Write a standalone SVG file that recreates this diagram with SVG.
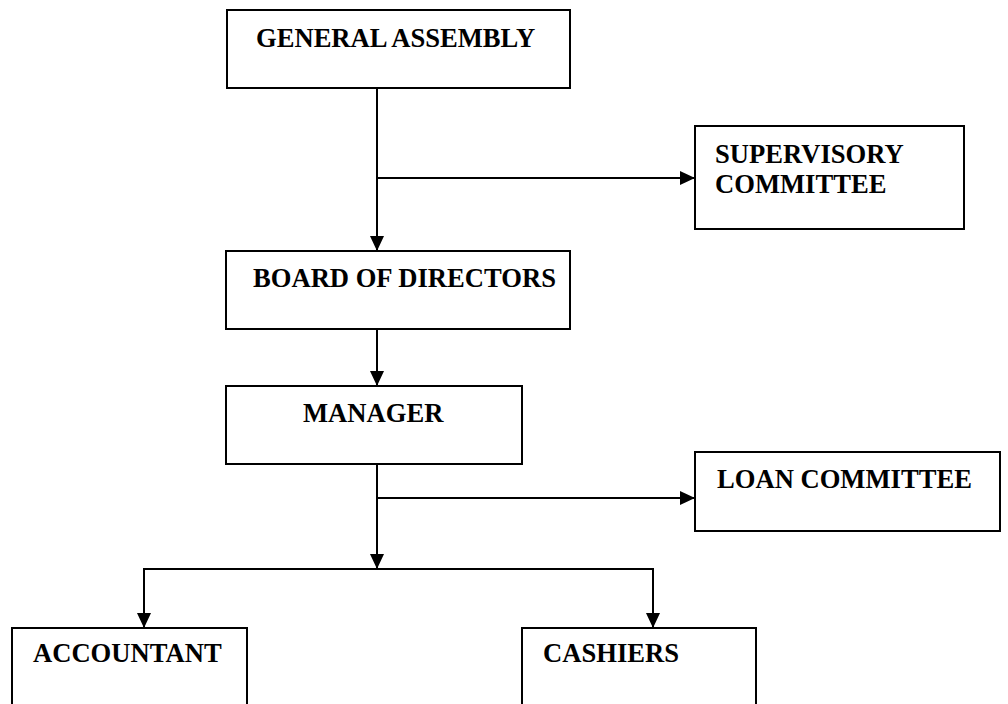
<svg xmlns="http://www.w3.org/2000/svg" width="1008" height="704" viewBox="0 0 1008 704">
<style>
.box{fill:#fff;stroke:#000;stroke-width:2}
.lbl{font-family:"Liberation Serif","Times New Roman",serif;font-weight:bold;font-size:26.6px;fill:#000}
.c{fill:none;stroke:#000;stroke-width:2}
</style>
<defs>
<marker id="ah" viewBox="0 0 15 14" refX="15" refY="7" markerWidth="15" markerHeight="14" markerUnits="userSpaceOnUse" orient="auto">
<path d="M0,0 L15,7 L0,14 z" fill="#000"/>
</marker>
</defs>
<rect width="1008" height="704" fill="#fff"/>
<g id="connectors">
<path class="c" d="M377,88 V251" marker-end="url(#ah)"/>
<path class="c" d="M377,178 H695" marker-end="url(#ah)"/>
<path class="c" d="M377,329 V386" marker-end="url(#ah)"/>
<path class="c" d="M377,464 V569" marker-end="url(#ah)"/>
<path class="c" d="M377,498 H695" marker-end="url(#ah)"/>
<path class="c" d="M144,628 V569 H653 V628"/>
<path class="c" d="M144,569 V628" marker-end="url(#ah)"/>
<path class="c" d="M653,569 V628" marker-end="url(#ah)"/>
</g>
<g id="general-assembly">
<rect class="box" x="227" y="10" width="343" height="78"/>
<text class="lbl" x="256" y="47">GENERAL ASSEMBLY</text>
</g>
<g id="supervisory-committee">
<rect class="box" x="695" y="126" width="269" height="103"/>
<text class="lbl" x="715" y="163">SUPERVISORY</text>
<text class="lbl" x="715" y="193">COMMITTEE</text>
</g>
<g id="board-of-directors">
<rect class="box" x="226" y="251" width="344" height="78"/>
<text class="lbl" x="253" y="287">BOARD OF DIRECTORS</text>
</g>
<g id="manager">
<rect class="box" x="226" y="386" width="296" height="78"/>
<text class="lbl" x="303" y="422">MANAGER</text>
</g>
<g id="loan-committee">
<rect class="box" x="695" y="452" width="305" height="79"/>
<text class="lbl" x="717" y="488">LOAN COMMITTEE</text>
</g>
<g id="accountant">
<rect class="box" x="12" y="628" width="235" height="100"/>
<text class="lbl" x="33" y="662">ACCOUNTANT</text>
</g>
<g id="cashiers">
<rect class="box" x="522" y="628" width="234" height="100"/>
<text class="lbl" x="543" y="662">CASHIERS</text>
</g>
</svg>
